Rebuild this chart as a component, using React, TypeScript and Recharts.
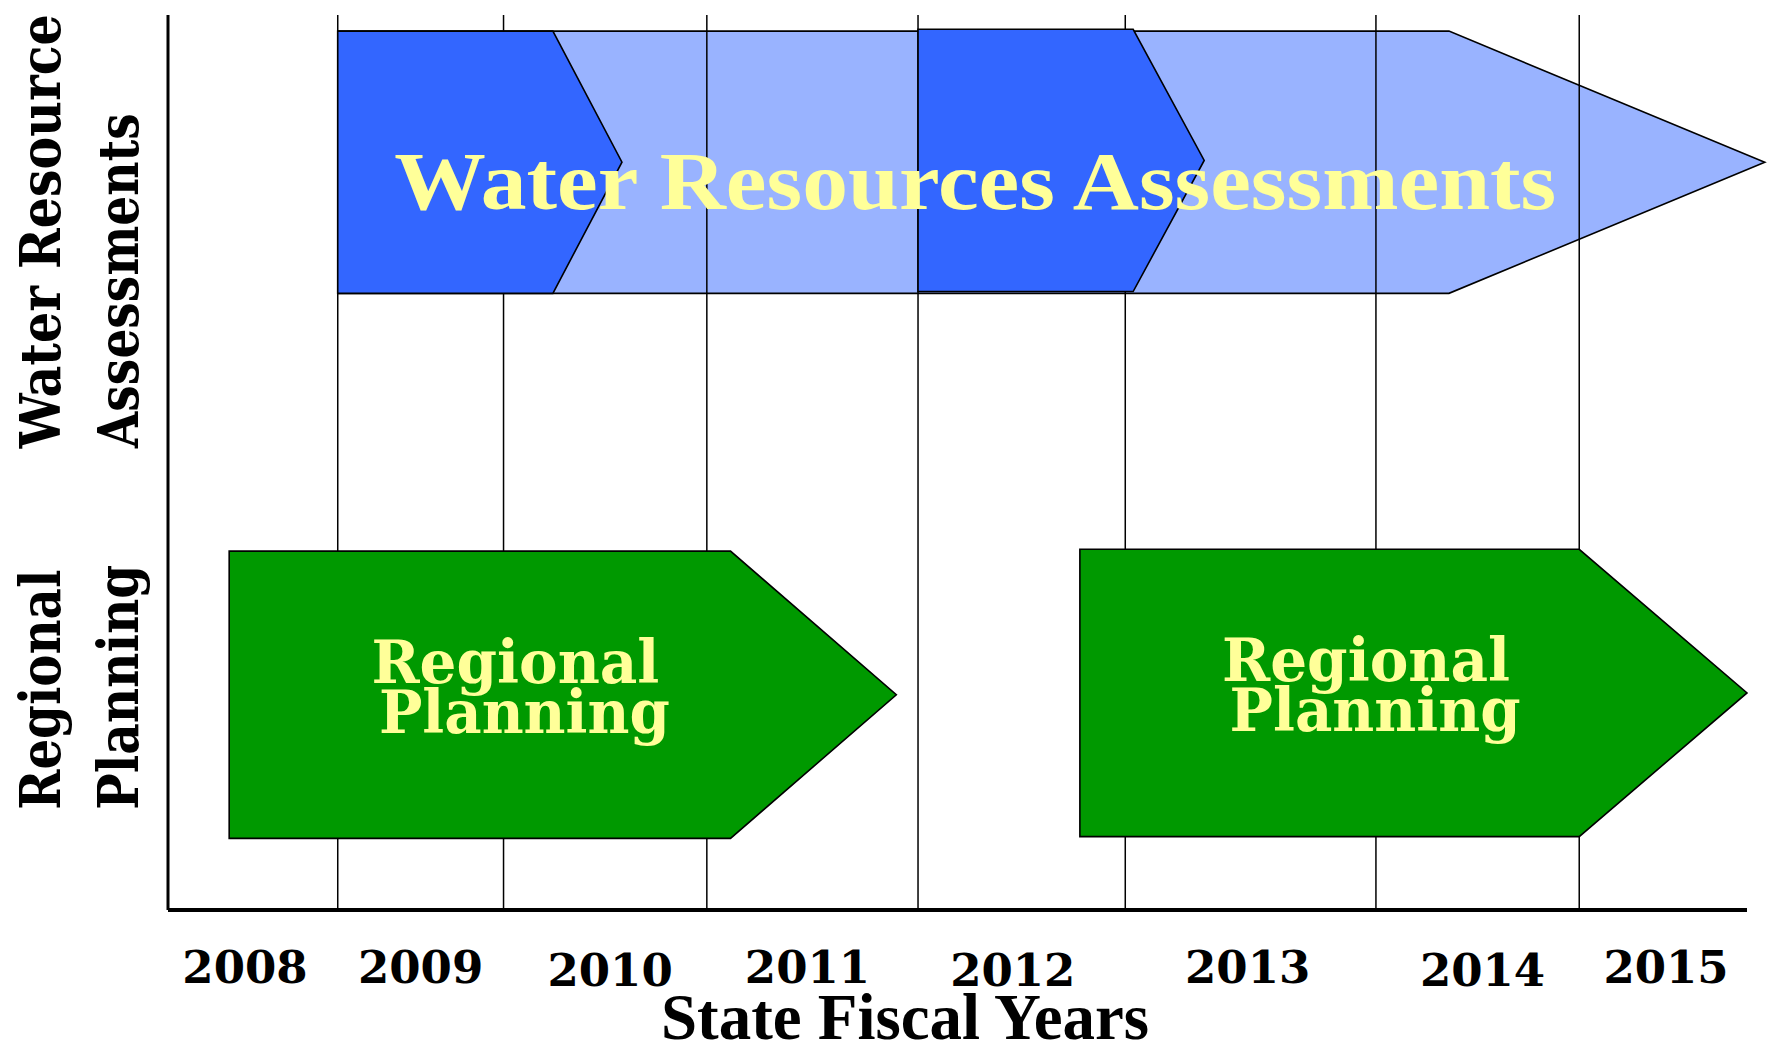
import { ComposedChart, XAxis, YAxis, ReferenceArea, ReferenceLine, ReferenceDot } from 'recharts';

// fiscal years along the x axis; boundaries (the years are not evenly spaced)
const yearLabels = ['2008', '2009', '2010', '2011', '2012', '2013', '2014', '2015'];
const yearTicks = [2008.39, 2009.28, 2010.24, 2011.24, 2012.28, 2013.47, 2014.66, 2015.59];
const gridYears = [2008.86, 2009.7, 2010.73, 2011.8, 2012.85, 2014.12, 2015.15];

// the two rows of the timeline (y runs 0..100 from axis to top)
const rowAxisText = [
  ['Water Resource', 'Assessments'],
  ['Regional', 'Planning'],
];
const rowTop = [98.2, 40.1];
const rowBottom = [68.9, 8.0];
const rowCenters = rowTop.map((t, i) => (t + rowBottom[i]) / 2);

// arrow phases: start, where the head begins, tip, and vertical extent
const phaseStart = [2008.86, 2008.86, 2011.8, 2008.31, 2012.62];
const phaseHead = [2014.49, 2009.95, 2012.89, 2010.85, 2015.15];
const phaseTip = [2016.09, 2010.3, 2013.25, 2011.69, 2016.0];
const phaseTop = [98.2, 98.2, 98.4, 40.1, 40.3];
const phaseBottom = [68.9, 68.9, 69.1, 8.0, 8.2];

// text written on the arrows
const bannerLines = [['Water Resources Assessments'], ['Regional', 'Planning'], ['Regional', 'Planning']];
const bannerX = [2012.09, 2009.76, 2014.07];
const bannerY = [81.3, 25.0, 25.25];

const chartData = phaseStart.map((s, i) => ({
  start: s,
  mid: (phaseTop[i] + phaseBottom[i]) / 2,
}));

const phaseFill = ['#99b3ff', '#3366ff', '#3366ff', '#009900', '#009900'];
const phaseZ = [100, 120, 120, 120, 120];
const yellow = '#ffff99';
const serif = '"DejaVu Serif", serif';
const times = '"Liberation Serif", "Times New Roman", serif';

const rowLabelX = [60, 138];
const rowLabelDy = [286, 115];
const rowLabelLength = [
  [434, 335],
  [240, 245],
];
const yearStagger = [0, 0, 3, 0, 3, 0, 3, 0];

const arrowShape = (i: number) => (p: any) => {
  const { x, y, width, height } = p;
  if (x == null || width == null) return <g />;
  const head = x + (width * (phaseHead[i] - phaseStart[i])) / (phaseTip[i] - phaseStart[i]);
  const pts = [
    [x, y],
    [head, y],
    [x + width, y + height / 2],
    [head, y + height],
    [x, y + height],
  ]
    .map((q) => q.join(','))
    .join(' ');
  return <polygon points={pts} fill={phaseFill[i]} stroke="#000" strokeWidth={1.6} />;
};

const bannerShape = (i: number) => (p: any) => {
  const { cx, cy } = p;
  if (cx == null) return <g />;
  if (bannerLines[i].length === 1) {
    return (
      <text
        x={cx}
        y={cy + 27}
        textAnchor="middle"
        fontFamily={times}
        fontWeight="bold"
        fontSize={82}
        fill={yellow}
        textLength={1162}
        lengthAdjust="spacingAndGlyphs"
      >
        {bannerLines[i][0]}
      </text>
    );
  }
  return (
    <g fontFamily={serif} fontWeight="bold" fontSize={59} fill={yellow} textAnchor="middle">
      <text x={cx} y={cy - 3} textLength={288} lengthAdjust="spacingAndGlyphs">
        {bannerLines[i][0]}
      </text>
      <text x={cx + 9} y={cy + 47} textLength={291} lengthAdjust="spacingAndGlyphs">
        {bannerLines[i][1]}
      </text>
    </g>
  );
};

const RowTick = (p: any) => {
  const i = rowCenters.findIndex((v) => Math.abs(v - p.payload.value) < 1e-6);
  if (i < 0) return null;
  const yStart = p.y + rowLabelDy[i];
  return (
    <g fontFamily={serif} fontWeight="bold" fontSize={56} fill="#000">
      {rowAxisText[i].map((line, j) => (
        <text
          key={line}
          x={rowLabelX[j]}
          y={yStart}
          transform={`rotate(-90, ${rowLabelX[j]}, ${yStart})`}
          textAnchor="start"
          textLength={rowLabelLength[i][j]}
          lengthAdjust="spacingAndGlyphs"
        >
          {line}
        </text>
      ))}
    </g>
  );
};

const YearTick = (p: any) => {
  const i = yearTicks.findIndex((v) => Math.abs(v - p.payload.value) < 1e-6);
  if (i < 0) return null;
  return (
    <text
      x={p.x}
      y={983 + yearStagger[i]}
      textAnchor="middle"
      fontFamily={serif}
      fontWeight="bold"
      fontSize={45}
      fill="#000"
    >
      {yearLabels[i]}
    </text>
  );
};

const AxisTitle = () => (
  <text
    x={905}
    y={1039}
    textAnchor="middle"
    fontFamily={times}
    fontWeight="bold"
    fontSize={65}
    fill="#000"
    textLength={488}
    lengthAdjust="spacingAndGlyphs"
  >
    State Fiscal Years
  </text>
);

export default function App() {
  return (
    <div style={{ position: 'absolute', left: 0, top: 0, width: 1771, height: 1051, background: '#fff' }}>
      <ComposedChart width={1771} height={1051} data={chartData} margin={{ top: 15, right: 24, bottom: 0, left: 0 }}>
        <XAxis
          dataKey="start"
          type="number"
          domain={[2008, 2016]}
          allowDataOverflow
          ticks={yearTicks}
          interval={0}
          height={141}
          tickLine={false}
          axisLine={{ stroke: '#000', strokeWidth: 4 }}
          tick={<YearTick />}
          label={<AxisTitle />}
        />
        <YAxis
          dataKey="mid"
          type="number"
          domain={[0, 100]}
          allowDataOverflow
          ticks={rowCenters}
          interval={0}
          width={168}
          tickLine={false}
          axisLine={{ stroke: '#000', strokeWidth: 3 }}
          tick={<RowTick />}
        />
        {phaseStart.map((s, i) =>
          phaseZ[i] === 100 ? (
            <ReferenceArea
              key={`lo-${i}`}
              x1={s}
              x2={phaseTip[i]}
              y1={phaseBottom[i]}
              y2={phaseTop[i]}
              ifOverflow="visible"
              zIndex={phaseZ[i]}
              shape={arrowShape(i)}
            />
          ) : null
        )}
        {gridYears.map((g) => (
          <ReferenceLine key={g} x={g} stroke="#000" strokeWidth={1.5} zIndex={110} />
        ))}
        {phaseStart.map((s, i) =>
          phaseZ[i] !== 100 ? (
            <ReferenceArea
              key={`hi-${i}`}
              x1={s}
              x2={phaseTip[i]}
              y1={phaseBottom[i]}
              y2={phaseTop[i]}
              ifOverflow="visible"
              zIndex={phaseZ[i]}
              shape={arrowShape(i)}
            />
          ) : null
        )}
        {bannerX.map((bx, i) => (
          <ReferenceDot
            key={`b-${i}`}
            x={bx}
            y={bannerY[i]}
            r={0}
            ifOverflow="visible"
            zIndex={130}
            shape={bannerShape(i)}
          />
        ))}
      </ComposedChart>
    </div>
  );
}
